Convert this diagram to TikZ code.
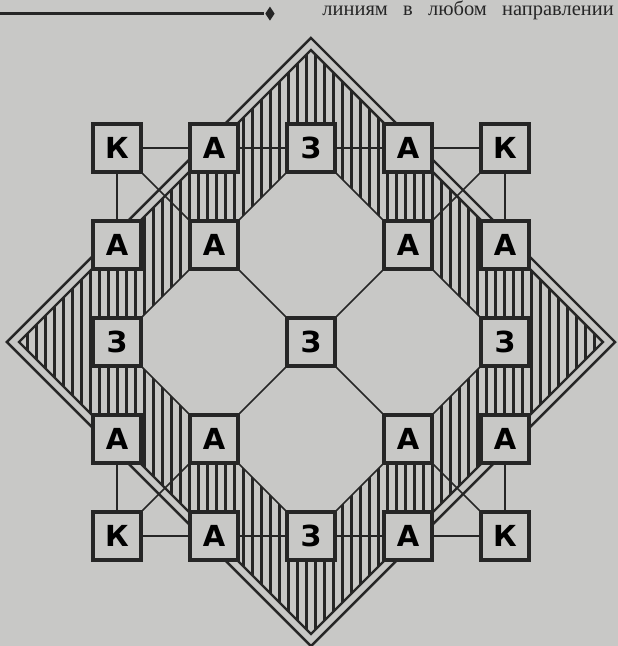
\documentclass[tikz,border=0pt]{standalone}
\usepackage{fontspec}
\setmainfont{Liberation Serif}
\newfontfamily\boardfont{DejaVu Sans}
\usetikzlibrary{positioning}
\definecolor{paper}{HTML}{C8C8C6}
\definecolor{ink}{HTML}{262626}

\begin{document}
\begin{tikzpicture}[x=2cm,y=2cm,
    cell/.style={draw=ink,line width=1.9pt,fill=paper,minimum size=0.99cm,inner sep=0pt,
      font=\boardfont\bfseries\fontsize{17}{17}\selectfont},
    link/.style={draw=ink,line width=0.9pt},
    rim/.style={draw=ink,line width=1.4pt}]
  \useasboundingbox (-3.206,-3.134) rectangle (3.165,3.526);
  \clip (-3.206,-3.134) rectangle (3.165,3.526);
  \fill[paper] (-3.206,-3.134) rectangle (3.165,3.526);
  % page rule and running text
  \draw[ink,line width=1.8pt] (-3.3,3.385) -- (-0.48,3.385);
  \fill[ink] (-0.423,3.458) -- (-0.375,3.385) -- (-0.423,3.313) -- (-0.471,3.385) -- cycle;
  \node[anchor=base west,inner sep=0pt,text=ink,font=\fontsize{12}{12}\selectfont]
    (caption) at (0.115,3.37) {линиям\hspace{9pt}в\hspace{9pt}любом\hspace{9pt}направлении};
  % hatched band
  \begin{scope}
    \clip (0,3.01) -- (3.01,0) -- (0,-3.01) -- (-3.01,0) -- cycle;
    \foreach \i in {-33,...,32}
      \draw[ink,line width=1.3pt] ({(\i+0.5)*0.0928},-3.1) -- ++(0,6.2);
  \end{scope}
  \filldraw[fill=paper,link] (0,2) -- (2,0) -- (0,-2) -- (-2,0) -- cycle;
  % double rim
  \draw[rim] (0,3.01) -- (3.01,0) -- (0,-3.01) -- (-3.01,0) -- cycle;
  \draw[rim] (0,3.135) -- (3.135,0) -- (0,-3.135) -- (-3.135,0) -- cycle;
  % board cells
  \node[cell] (kTL) at (-2,2) {К};
  \node[cell] (aT1) at (-1,2) {А};
  \node[cell] (zT)  at (0,2)  {З};
  \node[cell] (aT2) at (1,2)  {А};
  \node[cell] (kTR) at (2,2)  {К};
  \node[cell] (aL1) at (-2,1) {А};
  \node[cell] (iTL) at (-1,1) {А};
  \node[cell] (iTR) at (1,1)  {А};
  \node[cell] (aR1) at (2,1)  {А};
  \node[cell] (zL)  at (-2,0) {З};
  \node[cell] (zC)  at (0,0)  {З};
  \node[cell] (zR)  at (2,0)  {З};
  \node[cell] (aL2) at (-2,-1) {А};
  \node[cell] (iBL) at (-1,-1) {А};
  \node[cell] (iBR) at (1,-1)  {А};
  \node[cell] (aR2) at (2,-1)  {А};
  \node[cell] (kBL) at (-2,-2) {К};
  \node[cell] (aB1) at (-1,-2) {А};
  \node[cell] (zB)  at (0,-2)  {З};
  \node[cell] (aB2) at (1,-2)  {А};
  \node[cell] (kBR) at (2,-2)  {К};
  % lines between cells
  \foreach \p/\q in {kTL/aT1,kTL/aL1,kTL/iTL,kTR/aT2,kTR/aR1,kTR/iTR,
                     kBL/aB1,kBL/aL2,kBL/iBL,kBR/aB2,kBR/aR2,kBR/iBR,
                     aT1/zT,zT/aT2,aB1/zB,zB/aB2,
                     zC/iTL,zC/iTR,zC/iBL,zC/iBR}
    \draw[link] (\p) -- (\q);
\end{tikzpicture}
\end{document}
